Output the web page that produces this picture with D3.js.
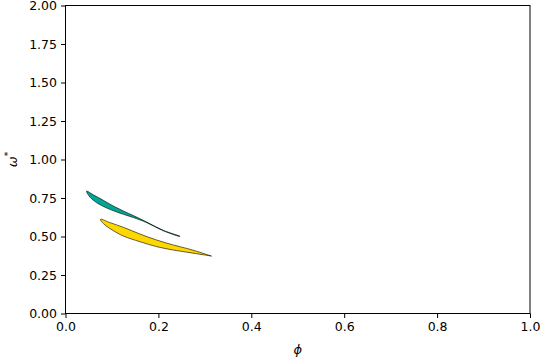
<!DOCTYPE html>
<html><head><meta charset="utf-8">
<script src="https://cdn.jsdelivr.net/npm/d3@7"></script>
<style>body{margin:0;background:#fff}svg{display:block}text{font-family:"DejaVu Sans",sans-serif}</style>
</head><body>
<script>
const xTicks = [0.0, 0.2, 0.4, 0.6, 0.8, 1.0];
const yTicks = [0.00, 0.25, 0.50, 0.75, 1.00, 1.25, 1.50, 1.75, 2.00];
// teal region boundaries (phi, omega*)
const tealUpper = [[0.0456,0.795],[0.0598,0.771],[0.0814,0.735],[0.1029,0.698],[0.1244,0.666],[0.1460,0.636],[0.1748,0.594],[0.2105,0.540],[0.2465,0.501]];
const tealLower = [[0.0456,0.789],[0.0527,0.756],[0.0672,0.719],[0.0887,0.685],[0.1102,0.659],[0.1318,0.637],[0.1460,0.623],[0.1748,0.590],[0.2105,0.537],[0.2465,0.500]];
// yellow region boundaries
const goldUpper = [[0.0758,0.612],[0.0958,0.590],[0.1244,0.560],[0.1604,0.516],[0.1963,0.477],[0.2321,0.445],[0.2680,0.417],[0.3143,0.373]];
const goldLower = [[0.0758,0.604],[0.0850,0.575],[0.1029,0.538],[0.1244,0.503],[0.1604,0.466],[0.1963,0.434],[0.2321,0.412],[0.2680,0.395],[0.3143,0.373]];

const W = 540, H = 360;
const m = {left: 65.5, right: 530, top: 5.5, bottom: 313.5};
const svg = d3.select("body").append("svg").attr("width", W).attr("height", H);
const x = d3.scaleLinear().domain([0, 1]).range([m.left, m.right]);
const y = d3.scaleLinear().domain([0, 2]).range([m.bottom, m.top]);

function region(upper, lower) {
  const pts = upper.concat(lower.slice().reverse());
  return d3.line().x(d => x(d[0])).y(d => y(d[1])).curve(d3.curveCatmullRomClosed)(pts);
}
svg.append("path").attr("d", region(tealUpper, tealLower))
  .attr("fill", "#00a693").attr("stroke", "#000").attr("stroke-width", 0.6).attr("stroke-linejoin","round");
svg.append("path").attr("d", region(goldUpper, goldLower))
  .attr("fill", "#ffd700").attr("stroke", "#000").attr("stroke-width", 0.6).attr("stroke-linejoin","round");

const fs = "12.5px";
const xa = svg.append("g").attr("transform", `translate(0,${m.bottom})`)
  .call(d3.axisBottom(x).tickValues(xTicks).tickFormat(d3.format(".1f")).tickSizeOuter(0).tickSize(4.5).tickPadding(4));
const ya = svg.append("g").attr("transform", `translate(${m.left},0)`)
  .call(d3.axisLeft(y).tickValues(yTicks).tickFormat(d3.format(".2f")).tickSizeOuter(0).tickSize(4.5).tickPadding(4));
[xa, ya].forEach(a => {
  a.select(".domain").remove();
  a.selectAll("line").attr("stroke", "#000").attr("stroke-width", 1);
  a.selectAll("text").attr("fill", "#000").style("font-size", fs).style("font-family", '"DejaVu Sans", sans-serif');
});
svg.append("rect").attr("x", m.left).attr("y", m.top).attr("width", m.right - m.left).attr("height", m.bottom - m.top)
  .attr("fill", "none").attr("stroke", "#000").attr("stroke-width", 1);

svg.append("text").attr("x", (m.left + m.right) / 2).attr("y", 354).attr("text-anchor", "middle")
  .style("font-size", "13px").style("font-style", "italic").text("ϕ");
const yl = svg.append("text").attr("transform", `translate(17,${(m.top + m.bottom) / 2}) rotate(-90)`)
  .attr("text-anchor", "middle").style("font-size", "13px");
yl.append("tspan").style("font-style", "italic").text("ω");
yl.append("tspan").attr("dy", -6).style("font-size", "9px").text("*");
</script>
</body></html>
